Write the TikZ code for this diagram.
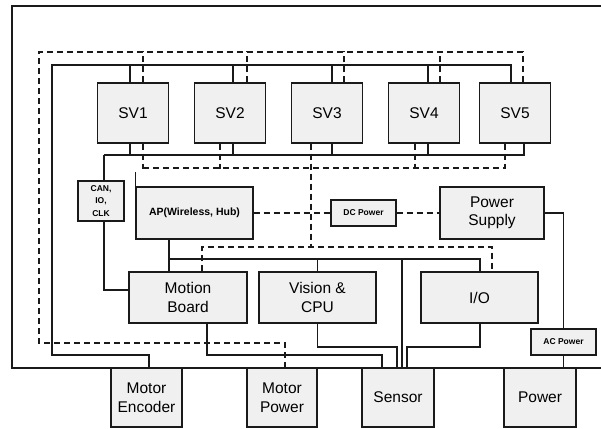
\documentclass[tikz,border=0pt]{standalone}
\usepackage{fontspec}
\setmainfont{Liberation Sans}
\usetikzlibrary{backgrounds}
\definecolor{lc}{HTML}{1A1A1A}
\definecolor{boxfill}{HTML}{F0F0F0}
\begin{document}
\begin{tikzpicture}[x=1pt,y=-1pt,
  box/.style={draw=lc, fill=boxfill, line width=1.4pt, align=center, inner sep=0pt,
    font=\fontsize{15.5}{18.5}\selectfont},
  small/.style={box, font=\bfseries\fontsize{8.5}{12.5}\selectfont},
  sol/.style={draw=lc, line width=1.5pt},
  dsh/.style={draw=lc, line width=1.5pt, dash pattern=on 6pt off 4pt},
  frame/.style={draw=lc, line width=2.2pt}]
\useasboundingbox (0,0) rectangle (601,428);

% SV boxes
\node[box, minimum width=71pt, minimum height=60pt] (sv1) at (133,113) {SV1};
\node[box, minimum width=71pt, minimum height=60pt] (sv2) at (230,113) {SV2};
\node[box, minimum width=71pt, minimum height=60pt] (sv3) at (327,113) {SV3};
\node[box, minimum width=71pt, minimum height=60pt] (sv4) at (424,113) {SV4};
\node[box, minimum width=71pt, minimum height=60pt] (sv5) at (515,113) {SV5};

% middle
\node[small, minimum width=46pt, minimum height=40pt] (can) at (101,201) {CAN,\\IO,\\CLK};
\node[box, minimum width=117pt, minimum height=52pt, font=\bfseries\fontsize{10.5}{13}\selectfont] (ap) at (194.5,213) {AP(Wireless, Hub)};
\node[small, minimum width=65pt, minimum height=26pt] (dc) at (363.5,213) {DC Power};
\node[box, minimum width=104pt, minimum height=52pt] (ps) at (492,213) {Power\\Supply};
\node[box, minimum width=118pt, minimum height=51pt] (mb) at (188,297.5) {Motion\\Board};
\node[box, minimum width=117pt, minimum height=51pt] (vc) at (317.5,297.5) {Vision \&\\CPU};
\node[box, minimum width=117pt, minimum height=51pt] (io) at (479.5,297.5) {I/O};
\node[small, minimum width=65pt, minimum height=26pt] (ac) at (563.5,342) {AC Power};

% bottom
\node[box, minimum width=71pt, minimum height=59pt] (me) at (146.5,397.5) {Motor\\Encoder};
\node[box, minimum width=70pt, minimum height=59pt] (mp) at (282,397.5) {Motor\\Power};
\node[box, minimum width=72pt, minimum height=59pt] (se) at (398,397.5) {Sensor};
\node[box, minimum width=72pt, minimum height=59pt] (pw) at (540,397.5) {Power};

\begin{scope}[on background layer]
\fill[white] (0,0) rectangle (601,428);
% outer frame
\draw[frame] (601,6) -- (12,6) -- (12,368) -- (601,368);

% top solid bus
\coordinate (tsR) at (511,65);
\draw[sol] (tsR) -- (52,65) -- (52,355) -| ([xshift=2.5pt]me.north);
\draw[sol] ([xshift=-3pt]sv1.north) -- ++(0,-18);
\draw[sol] ([xshift=3pt]sv2.north) -- ++(0,-18);
\draw[sol] ([xshift=5pt]sv3.north) -- ++(0,-18);
\draw[sol] ([xshift=4pt]sv4.north) -- ++(0,-18);
\draw[sol] ([xshift=-4pt]sv5.north) -- ++(0,-18);

% top dashed bus
\coordinate (tdR) at (523,52);
\draw[dsh] (tdR) -- (39,52) -- (39,343) -| ([xshift=3pt]mp.north);
\draw[dsh] ([xshift=10pt]sv1.north) -- ++(0,-31);
\draw[dsh] ([xshift=17pt]sv2.north) -- ++(0,-31);
\draw[dsh] ([xshift=17pt]sv3.north) -- ++(0,-31);
\draw[dsh] ([xshift=16pt]sv4.north) -- ++(0,-31);
\draw[dsh] ([xshift=8pt]sv5.north) -- ++(0,-31);

% lower solid bus
\coordinate (lsL) at (104,155);
\draw[sol] (lsL) -- (524,155);
\draw[sol] ([xshift=-3pt]sv1.south) -- ++(0,12);
\draw[sol] ([xshift=3pt]sv2.south) -- ++(0,12);
\draw[sol] ([xshift=5pt]sv3.south) -- ++(0,12);
\draw[sol] ([xshift=4pt]sv4.south) -- ++(0,12);
\draw[sol] ([xshift=9pt]sv5.south) -- ++(0,12);
\draw[sol] (lsL) -- ([xshift=3pt]can.north);
\draw[sol] ([xshift=3pt]can.south) |- ([yshift=7.5pt]mb.west);

% lower dashed bus
\draw[dsh] (143,168) -- (505,168);
\draw[dsh] ([xshift=10pt]sv1.south) -- ++(0,25);
\draw[dsh] ([xshift=-10pt]sv2.south) -- ++(0,25);
\draw[dsh] ([xshift=-9pt]sv4.south) -- ++(0,25);
\draw[dsh] ([xshift=-10pt]sv5.south) -- ++(0,25);
\coordinate (d3) at (311,247);
\draw[dsh] ([xshift=-16pt]sv3.south) -- (d3);
\draw[dsh] ([xshift=14pt]mb.north) |- (d3) -| ([xshift=12.5pt]io.north);

% AP - DC - PS
\draw[dsh] (ap.east) -- (dc.west);
\draw[dsh] (dc.east) -- (ps.west);
\draw[sol] (ap.north west) -- ++(0,-14);

% solid bus below AP
\coordinate (b1) at (169,259);
\draw[sol] ([xshift=-25.5pt]ap.south) -- ([xshift=-19pt]mb.north);
\draw[sol] (b1) -| ([xshift=0.5pt]io.north);
\draw[sol] (vc.north) -- ++(0,-13);
\draw[sol] (402,259) -- ([xshift=4pt]se.north);

% bottoms to sensor
\draw[sol] ([xshift=19pt]mb.south) -- (207,355) -| ([xshift=-16pt]se.north);
\draw[sol] (vc.south) -- (317.5,347) -| ([xshift=-1pt]se.north);
\draw[sol] ([xshift=0.5pt]io.south) -- (480,347) -| ([xshift=9pt]se.north);

% power supply
\draw[sol] (ps.east) -| (ac.north);
\draw[sol] (ac.south) -- (ac.south |- pw.north);
\end{scope}
\end{tikzpicture}
\end{document}
